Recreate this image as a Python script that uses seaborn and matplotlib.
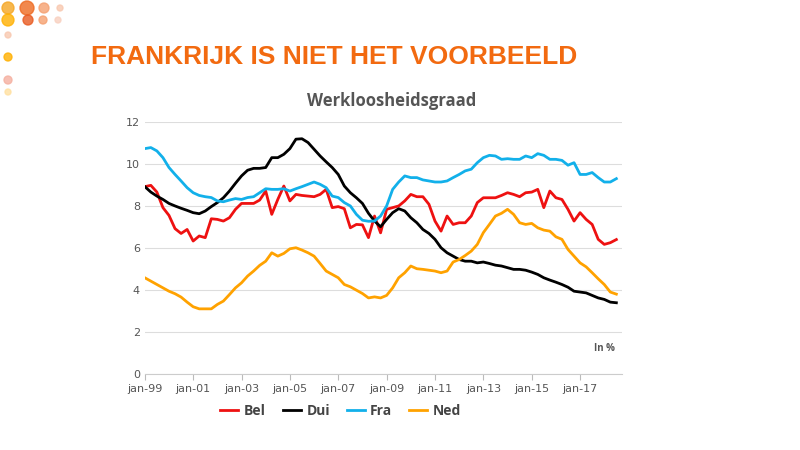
import numpy as np
import pandas as pd
import matplotlib
matplotlib.use("Agg")
import matplotlib.pyplot as plt
import seaborn as sns
from matplotlib.patches import Ellipse

years = [1999 + 0.25 * i for i in range(79)]
bel = [8.92,8.98,8.66,7.92, 7.55,6.92,6.69,6.88, 6.33,6.57,6.49,7.39, 7.36,7.28,7.44,7.84,
       8.12,8.12,8.12,8.28, 8.71,7.6,8.31,8.95, 8.24,8.55,8.5,8.47, 8.44,8.55,8.79,7.92,
       7.97,7.87,6.96,7.12, 7.1,6.49,7.52,6.72, 7.84,7.92,8.0,8.24, 8.55,8.44,8.44,8.08,
       7.28,6.8,7.52,7.12, 7.2,7.2,7.52,8.16, 8.39,8.39,8.39,8.5, 8.63,8.55,8.44,8.63,
       8.66,8.79,7.92,8.71, 8.39,8.31,7.84,7.28, 7.68,7.36,7.12,6.41, 6.17,6.25,6.4]
dui = [8.92,8.66,8.47,8.31, 8.12,8.0,7.89,7.79, 7.68,7.63,7.76,7.97, 8.16,8.39,8.71,9.08,
       9.43,9.7,9.79,9.79, 9.83,10.3,10.3,10.46, 10.73,11.18,11.2,11.02, 10.7,10.38,10.1,9.83,
       9.5,8.95,8.63,8.39, 8.12,7.65,7.28,7.01, 7.36,7.68,7.87,7.76, 7.44,7.2,6.88,6.69,
       6.41,6.01,5.77,5.61, 5.45,5.37,5.37,5.29, 5.33,5.26,5.18,5.14, 5.06,4.98,4.98,4.94,
       4.85,4.74,4.58,4.47, 4.37,4.26,4.13,3.94, 3.9,3.86,3.74,3.62, 3.55,3.42,3.39]
fra = [10.73,10.78,10.62,10.3, 9.83,9.5,9.19,8.87, 8.63,8.5,8.44,8.4, 8.24,8.2,8.28,8.35,
       8.31,8.4,8.44,8.63, 8.82,8.79,8.79,8.82, 8.71,8.82,8.92,9.03, 9.14,9.03,8.87,8.47,
       8.4,8.16,8.0,7.6, 7.32,7.27,7.28,7.52, 8.0,8.79,9.14,9.43, 9.35,9.35,9.24,9.19,
       9.14,9.14,9.19,9.35, 9.5,9.67,9.75,10.06, 10.3,10.41,10.38,10.22, 10.25,10.22,10.22,10.38,
       10.3,10.49,10.41,10.22, 10.22,10.17,9.94,10.06, 9.5,9.5,9.59,9.35, 9.14,9.14,9.3]
ned = [4.58,4.42,4.26,4.1, 3.94,3.82,3.66,3.42, 3.2,3.1,3.1,3.1, 3.31,3.47,3.78,4.1,
       4.34,4.66,4.9,5.17, 5.37,5.77,5.61,5.74, 5.96,6.01,5.9,5.77, 5.61,5.26,4.9,4.74,
       4.58,4.26,4.15,3.99, 3.83,3.62,3.67,3.62, 3.74,4.1,4.58,4.82, 5.14,5.01,4.98,4.94,
       4.9,4.82,4.9,5.33, 5.45,5.64,5.85,6.17, 6.73,7.12,7.52,7.65, 7.84,7.6,7.2,7.12,
       7.17,6.96,6.85,6.8, 6.53,6.41,5.93,5.61, 5.29,5.1,4.82,4.53, 4.26,3.9,3.8]
series_names = ["Bel", "Dui", "Fra", "Ned"]
tick_years = [1999, 2001, 2003, 2005, 2007, 2009, 2011, 2013, 2015, 2017]
tick_labels = ["jan-99", "jan-01", "jan-03", "jan-05", "jan-07", "jan-09", "jan-11", "jan-13", "jan-15", "jan-17"]

df = pd.concat([pd.DataFrame({"t": years, "v": vals, "land": name})
                for name, vals in zip(series_names, [bel, dui, fra, ned])])
palette = {"Bel": "#EE1111", "Dui": "#000000", "Fra": "#12B0EA", "Ned": "#FFA200"}

fig = plt.figure(figsize=(8, 4.5), dpi=100)
ax = fig.add_axes([0.181, 0.169, 0.597, 0.56])
sns.lineplot(data=df, x="t", y="v", hue="land", palette=palette, linewidth=2, ax=ax, legend=True)

ax.set_xlim(1999, 2018.75)
ax.set_ylim(0, 12)
ax.set_yticks(range(0, 13, 2))
ax.set_xticks(tick_years)
ax.set_xticklabels(tick_labels)
ax.tick_params(axis="both", labelsize=8, colors="#555555", length=0)
ax.tick_params(axis="x", length=4, color="#bbbbbb")
ax.grid(axis="y", color="#dddddd", linewidth=0.8)
ax.set_axisbelow(True)
for s in ["top", "right", "left"]:
    ax.spines[s].set_visible(False)
ax.spines["bottom"].set_color("#cccccc")
ax.set_xlabel("")
ax.set_ylabel("")
ax.text(0.985, 0.09, "In %", transform=ax.transAxes, ha="right", fontsize=7,
        fontweight="bold", color="#555555", family="Open Sans")

h, l = ax.get_legend_handles_labels()
ax.legend(h, l, loc="upper center", bbox_to_anchor=(0.41, -0.07), ncol=4, frameon=False,
          handlelength=1.3, columnspacing=1.2, handletextpad=0.4,
          prop={"family": "Open Sans", "weight": "bold", "size": 10})
for t in ax.get_legend().get_texts():
    t.set_color("#444444")

fig.text(0.49, 0.765, "Werkloosheidsgraad", ha="center", fontsize=12, fontweight="bold",
         color="#555555", family="Open Sans")
fig.text(0.114, 0.857, "FRANKRIJK IS NIET HET VOORBEELD", fontsize=19, fontweight="bold",
         color="#F26A10", family="Liberation Sans")

dots = [(8, 8, 6, "#F5A623"), (27, 8, 7, "#EE6A20"), (44, 8, 5, "#F5A070"), (60, 8, 3, "#F8C8B0"),
        (8, 20, 6, "#FFB000"), (28, 20, 5, "#E85A20"), (43, 20, 4, "#F5A070"), (58, 20, 3, "#F8D0C0"),
        (8, 35, 3, "#F8C8B0"), (8, 57, 4, "#FFB000"), (8, 80, 4, "#F5B0A0"), (8, 92, 3, "#FFE0A0")]
for x, y, r, c in dots:
    fig.add_artist(Ellipse((x / 800, 1 - y / 450), 2 * r / 800, 2 * r / 450,
                           transform=fig.transFigure, color=c, alpha=0.8))

fig.savefig("out.png", dpi=100)
